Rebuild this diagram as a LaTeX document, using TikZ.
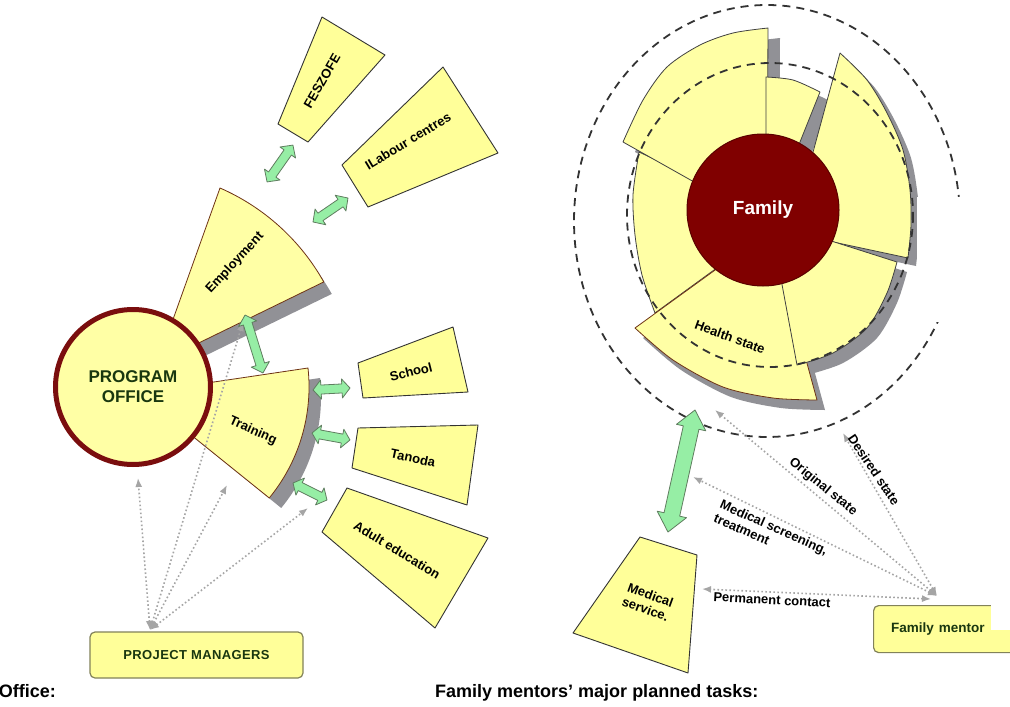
\documentclass[tikz,border=0pt]{standalone}
\usepackage{fontspec}
\setmainfont{Liberation Sans}
\usetikzlibrary{arrows.meta}
\definecolor{ly}{RGB}{255,255,165}
\definecolor{bx}{RGB}{255,255,153}
\definecolor{dred}{RGB}{128,0,0}
\definecolor{ringred}{RGB}{122,14,14}
\definecolor{wedgeedge}{RGB}{110,50,20}
\definecolor{ga}{RGB}{150,238,165}
\definecolor{gaedge}{RGB}{95,125,95}
\definecolor{dgreen}{RGB}{25,55,15}
\definecolor{sh}{RGB}{145,145,150}
\definecolor{dotcol}{RGB}{165,165,165}
\definecolor{boxedge}{RGB}{130,130,90}

\newcommand\dblarr[8]{% name x y angle halfLength halfHead halfShaft headLength
  \draw[garrow, shift={(#2,#3)}, rotate=#4] (-#5,0) -- (-#5+#8,#6) -- (-#5+#8,#7) -- (#5-#8,#7) -- (#5-#8,#6) -- (#5,0) -- (#5-#8,-#6) -- (#5-#8,-#7) -- (-#5+#8,-#7) -- (-#5+#8,-#6) -- cycle;
  \coordinate (#1) at (#2,#3);}

\def\skEmp{(161,353) -- (220,188) arc[start angle=-66.4, end angle=-29.3, radius=220] -- (170,357) -- cycle}
\def\skTr{(160,390) -- (308,368) arc[start angle=-6.2, end angle=39.4, radius=175] -- (170,418) -- cycle}
\def\skL{(763,210) -- plot[smooth] coordinates {(639,152) (633,195) (635,235) (642,275) (655,313)} -- (725,262) -- cycle}
\def\skTL{(767,223) -- plot[smooth] coordinates {(768,28) (733,33) (700,45) (667,67) (643,100) (623,142)} -- cycle}
\def\skTS{(766,200) -- plot[smooth] coordinates {(766,77) (793,80) (820,92)} -- (790,167) -- cycle}
\def\skR{(791,233) -- plot[smooth] coordinates {(840,53) (867,80) (887,113) (903,150) (910,190) (911,225) (908,258)} -- cycle}
\def\skBR{(770,220) -- plot[smooth] coordinates {(797,365) (833,353) (867,328) (887,293) (897,262)} -- (800,231) -- cycle}
\def\skH{(740,252) -- plot[smooth] coordinates {(635,328) (673,360) (723,387) (773,398) (817,400)} -- (787,290) -- (781,268) -- cycle}

\begin{document}
\begin{tikzpicture}[x=1pt,y=-1pt,
  lbl/.style={font=\fontsize{13}{15}\selectfont\bfseries, text=black, inner sep=0pt},
  tbox/.style={draw=black!80, fill=bx, line width=0.9pt, line join=round},
  wedge/.style={draw=wedgeedge, fill=ly, line width=0.8pt, line join=round},
  sector/.style={draw=black!75, fill=ly, line width=0.8pt, line join=round},
  shadow/.style={fill=sh, draw=none},
  garrow/.style={draw=gaedge, fill=ga, line width=0.8pt, line join=round},
  dotline/.style={draw=dotcol, line width=1.6pt, dash pattern=on 1.6pt off 2.4pt, {Latex[length=9pt,width=7pt]}-{Latex[length=9pt,width=7pt]}},
  dashcirc/.style={draw=black!80, line width=1.8pt, dash pattern=on 8pt off 6pt},
  rbox/.style={draw=boxedge, fill=bx, line width=1.2pt, rounded corners=5pt}]
\fill[white] (0,0) rectangle (1010,707);
\useasboundingbox (0,0) rectangle (1010,707);

% ---------- left: program office ----------
\fill[shadow, shift={(8,12)}] \skEmp;
\fill[shadow, shift={(12,10)}] \skTr;
\draw[wedge] \skEmp;
\draw[wedge] \skTr;
\node[circle, fill=ly, draw=ringred, line width=5pt, minimum size=155pt, inner sep=0pt, text=dgreen, align=center, font=\fontsize{17}{20}\selectfont\bfseries] (po) at (133,387) {PROGRAM\\OFFICE};
\node[lbl, rotate=47] (employ) at (235,263) {Employment};
\node[lbl, rotate=-24] (train) at (253,431) {Training};

\draw[tbox] (322,17) -- (385,55) -- (308,142) -- (278,124) -- cycle;
\node[lbl, rotate=60] (feszofe) at (322,81) {FESZOFE};
\draw[tbox] (443,67) -- (498,153) -- (368,207) -- (342,165) -- cycle;
\node[lbl, rotate=31] (labour) at (408,141) {ILabour centres};
\draw[tbox] (358,363) -- (453,327) -- (468,392) -- (363,398) -- cycle;
\node[lbl, rotate=14] (school) at (411,372) {School};
\draw[tbox] (358,428) -- (478,425) -- (467,505) -- (352,468) -- cycle;
\node[lbl, rotate=-12] (tanoda) at (413,458) {Tanoda};
\draw[tbox] (347,488) -- (488,538) -- (435,628) -- (322,532) -- cycle;
\node[lbl, rotate=-31] (adult) at (397,550) {Adult education};

\node[rbox, minimum width=213pt, minimum height=46pt, text=dgreen, font=\fontsize{13}{15}\selectfont\bfseries\addfontfeature{LetterSpace=3}] (pm) at (196.5,655) {PROJECT MANAGERS};
\coordinate (pmc) at (150,630);
\coordinate (poB) at (138,478);
\coordinate (trB) at (227,485);
\coordinate (trC) at (308,508);
\coordinate (emB) at (243,322);
\draw[dotline] (pmc) -- (poB);
\draw[dotline] (pmc) -- (trB);
\draw[dotline] (pmc) -- (trC);
\draw[dotline] (pmc) -- (emB);

\dblarr{ga1}{280}{163.5}{54.9}{22.5}{9.5}{4.5}{9}
\dblarr{ga2}{330.5}{210}{34.4}{21.2}{9.5}{4.5}{9}
\dblarr{ga3}{254}{344}{-72.8}{30.3}{9.5}{4.5}{9}
\dblarr{ga4}{331.5}{389}{3}{18.5}{9.5}{4.5}{8}
\dblarr{ga5}{331}{436.5}{-10.4}{19.3}{9.5}{4.5}{8}
\dblarr{ga6}{310}{491.5}{-26.6}{19}{9.5}{4.5}{8}

% ---------- right: family ----------
\fill[shadow, shift={(12,10)}] \skTL;
\fill[shadow, shift={(12,10)}] \skTS;
\fill[shadow, shift={(8,8)}] \skR;
\fill[shadow, shift={(10,10)}] \skBR;
\fill[shadow, shift={(8,10)}] \skH;
\draw[sector] \skL;
\draw[sector] \skTL;
\draw[sector] \skTS;
\draw[sector] \skR;
\draw[sector, draw=wedgeedge] \skH;
\draw[sector] \skBR;
\draw[dashcirc] (770,215) ellipse [x radius=143, y radius=152];
\draw[dashcirc] (767,221) ellipse [x radius=193, y radius=216];
\node[circle, fill=dred, draw=dred!70!black, line width=1pt, minimum size=152pt, inner sep=0pt, text=white, font=\fontsize{19}{21}\selectfont\bfseries] (fam) at (763,210) {Family};
\node[lbl, rotate=-20] (health) at (730,337) {Health state};

\draw[tbox] (640,537) -- (697,555) -- (688,673) -- (573,633) -- cycle;
\node[lbl, rotate=-20, align=center] (medtxt) at (648,602) {Medical\\service.};

\node[rbox, minimum width=150pt, minimum height=47pt, anchor=north west] (fm) at (873,605) {};
\node[anchor=west, text=dgreen, font=\fontsize{13.5}{15}\selectfont\bfseries, inner sep=0pt] (fmtext) at (891,629) {Family\hspace{5pt}mentor};

\coordinate (fmc) at (937,596);
\coordinate (fmc2) at (931,599);
\coordinate (os) at (715,410);
\coordinate (ds) at (843,433);
\coordinate (ms) at (693,477);
\coordinate (pc) at (702,589);
\draw[dotline] (fmc) -- (os);
\draw[dotline] (fmc) -- (ds);
\draw[dotline] (fmc) -- (ms);
\draw[dotline] (fmc2) -- (pc);

\dblarr{ga7}{681.5}{471}{77.5}{62.5}{15}{8}{18}

\node[lbl, rotate=-39] (orig) at (823,487) {Original state};
\node[lbl, rotate=-56] (des) at (874,470) {Desired state};
\node[lbl, rotate=-24, align=left] (medscr) at (771,534) {Medical screening,\\treatment};
\node[lbl, rotate=-3] (perm) at (772,600) {Permanent contact};

% white patches of the original
\fill[white] (917,197) rectangle (1012,322);
\fill[white] (991,540) rectangle (1012,630);

% bottom captions
\node[anchor=base east, font=\fontsize{18}{20}\selectfont\bfseries, inner sep=0pt] (office) at (56,697) {Office:};
\node[anchor=base west, font=\fontsize{18}{20}\selectfont\bfseries, inner sep=0pt] (fmtasks) at (435,697) {Family mentors' major planned tasks:};
\end{tikzpicture}
\end{document}
